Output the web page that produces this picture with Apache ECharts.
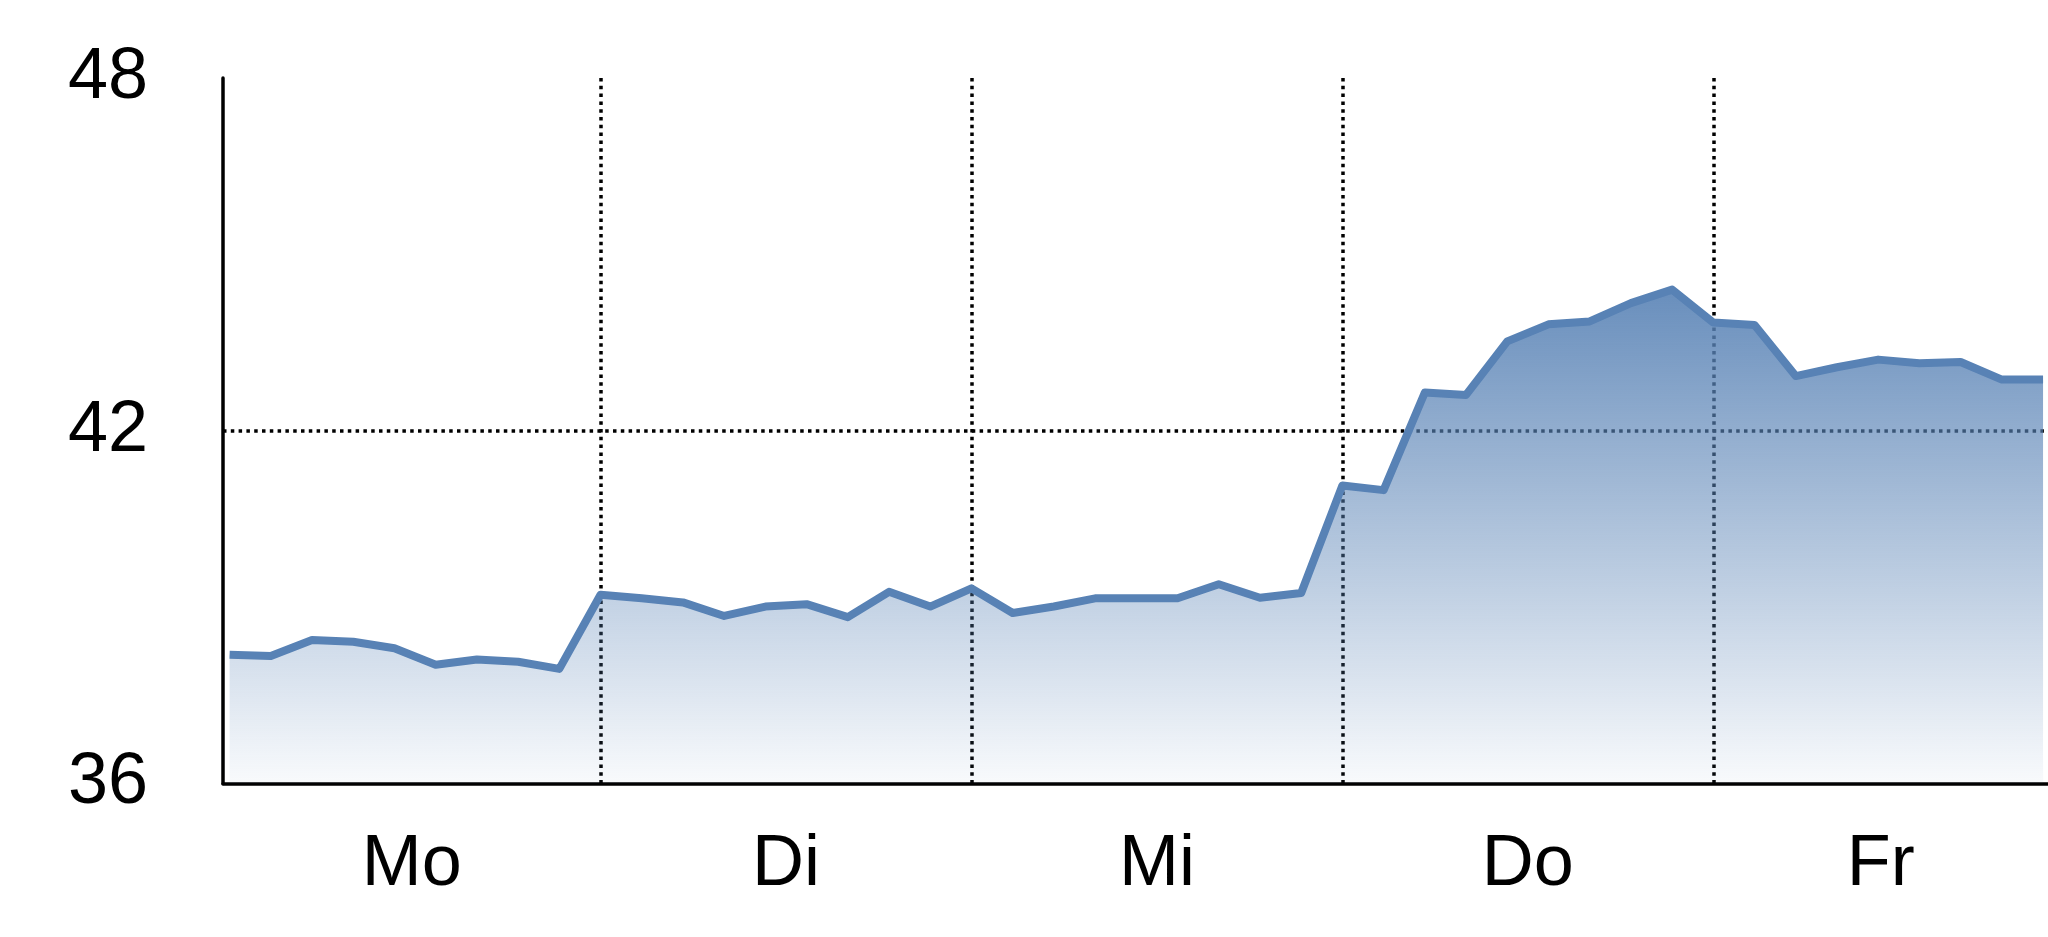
<!DOCTYPE html>
<html>
<head>
<meta charset="utf-8">
<title>Kursverlauf</title>
<script src="https://cdn.jsdelivr.net/npm/echarts@6/dist/echarts.min.js"></script>
<style>
  html, body { margin: 0; padding: 0; background: #fff; }
  #chart { width: 2048px; height: 937px; }
</style>
</head>
<body>
<div id="chart"></div>
<script>
// Wochentage (Achsenbeschriftung)
const dayLabels = ['Mo', 'Di', 'Mi', 'Do', 'Fr']
// Messpunkte pro Tag
const pointsPerDay = 9
// Kurswerte, 9 pro Tag
const prices = [
  38.19, 38.17, 38.44, 38.41, 38.30, 38.02, 38.11, 38.07, 37.95,
  39.21, 39.15, 39.08, 38.85, 39.01, 39.05, 38.83, 39.26, 39.01,
  39.32, 38.90, 39.01, 39.15, 39.15, 39.15, 39.39, 39.16, 39.24,
  41.07, 40.99, 42.65, 42.61, 43.52, 43.81, 43.86, 44.17, 44.40,
  43.84, 43.80, 42.93, 43.08, 43.21, 43.15, 43.17, 42.87, 42.87
]
// y-Achse
const yTicks = [36, 42, 48]
const yGridLines = [42]

const xMin = -0.16
const xMax = prices.length - 1 + 0.12

// Tagesgrenzen und Mitte jedes Tages fuer die Beschriftung
const dayBounds = dayLabels.slice(1).map((d, i) => (i + 1) * pointsPerDay)
const edges = [xMin].concat(dayBounds, [xMax])
const labelPos = dayLabels.map((d, i) => (edges[i] + edges[i + 1]) / 2)

const font = "'Liberation Sans', Arial, sans-serif"
const lineColor = '#5882b5'
const dotted = {
  color: '#000',
  width: 3.5,
  type: [3.5, 4.3]
}

const chart = echarts.init(document.getElementById('chart'))
chart.setOption({
  animation: false,
  grid: {
    left: 223,
    right: 0,
    top: 78,
    bottom: 153.5,
    containLabel: false
  },
  xAxis: {
    type: 'value',
    min: xMin,
    max: xMax,
    axisLine: { show: true, onZero: false, lineStyle: { color: '#000', width: 3.5 }},
    axisTick: { show: false, customValues: dayBounds },
    splitLine: { show: true, lineStyle: dotted },
    axisLabel: {
      customValues: labelPos,
      margin: 46,
      fontFamily: font,
      fontSize: 72,
      color: '#000',
      formatter: function(value) {
        // naechstgelegene Tagesmitte suchen
        let best = 0
        labelPos.forEach((p, i) => {
          if (Math.abs(p - value) < Math.abs(labelPos[best] - value)) best = i
        })
        return dayLabels[best]
      }
    }
  },
  yAxis: {
    type: 'value',
    min: yTicks[0],
    max: yTicks[yTicks.length - 1],
    interval: 6,
    axisLine: { show: true, onZero: false, lineStyle: { color: '#000', width: 3.5 }},
    axisTick: { show: false, customValues: yGridLines },
    splitLine: { show: true, lineStyle: dotted },
    axisLabel: {
      customValues: yTicks,
      margin: 75,
      fontFamily: font,
      fontSize: 72,
      color: '#000'
    }
  },
  series: [{
    type: 'line',
    data: prices.map((v, i) => [i, v]),
    symbol: 'none',
    lineStyle: { color: lineColor, width: 8, join: 'round' },
    areaStyle: {
      opacity: 1,
      color: new echarts.graphic.LinearGradient(0, 0, 0, 1, [
        { offset: 0, color: 'rgba(88,130,181,0.9)' },
        { offset: 1, color: 'rgba(88,130,181,0.04)' }
      ])
    },
    z: 1
  }]
})
</script>
</body>
</html>
